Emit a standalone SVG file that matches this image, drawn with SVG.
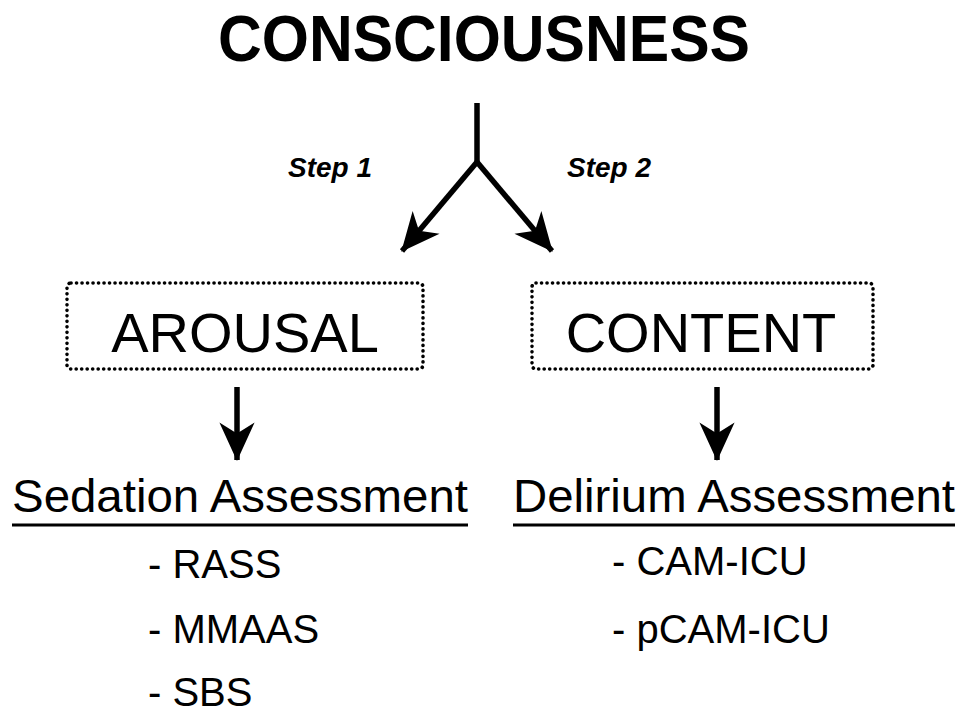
<svg xmlns="http://www.w3.org/2000/svg" width="965" height="721" viewBox="0 0 965 721">
<style>
  text { font-family: "Liberation Sans", Arial, sans-serif; fill: #000; }
  .title { font-size: 64px; font-weight: bold; }
  .step { font-size: 28px; font-weight: bold; font-style: italic; }
  .box { fill: none; stroke: #000; stroke-width: 3.6; stroke-dasharray: 0.1 5.4; stroke-linecap: round; }
  .boxlabel { font-size: 56px; }
  .head { font-size: 46px; }
  .item { font-size: 40px; }
  .line { fill: none; stroke: #000; stroke-width: 5.5; }
  .uline { stroke: #000; stroke-width: 3; }
</style>
<defs>
  <marker id="ah" markerUnits="userSpaceOnUse" markerWidth="44" markerHeight="44" viewBox="-38 -20 40 40" refX="0" refY="0" orient="auto">
    <path d="M1,0 L-34,-16 L-24,0 L-34,16 Z" fill="#000"/>
  </marker>
</defs>
<rect width="965" height="721" fill="#fff"/>

<g id="title">
  <text class="title" x="218" y="61" textLength="532" lengthAdjust="spacingAndGlyphs">CONSCIOUSNESS</text>
</g>

<g id="connectors">
  <path class="line" d="M477,103 L477,162"/>
  <path class="line" d="M477,162 L402,251" marker-end="url(#ah)"/>
  <path class="line" d="M477,162 L552,251" marker-end="url(#ah)"/>
  <path class="line" d="M237,387 L237,460" marker-end="url(#ah)"/>
  <path class="line" d="M717,387 L717,460" marker-end="url(#ah)"/>
</g>

<g id="step1">
  <text class="step" x="288" y="177">Step 1</text>
</g>
<g id="step2">
  <text class="step" x="567" y="177">Step 2</text>
</g>

<g id="arousal">
  <rect class="box" x="67" y="283" width="356" height="86" rx="4"/>
  <text class="boxlabel" x="245" y="352" text-anchor="middle">AROUSAL</text>
</g>

<g id="content">
  <rect class="box" x="532" y="283" width="341" height="86" rx="4"/>
  <text class="boxlabel" x="701" y="352" text-anchor="middle">CONTENT</text>
</g>

<g id="sedation">
  <text class="head" x="12" y="512" textLength="456" lengthAdjust="spacingAndGlyphs">Sedation Assessment</text>
  <line class="uline" x1="12" y1="525" x2="468" y2="525"/>
  <text class="item" x="148" y="578">- RASS</text>
  <text class="item" x="148" y="643">- MMAAS</text>
  <text class="item" x="148" y="706">- SBS</text>
</g>

<g id="delirium">
  <text class="head" x="513" y="512" textLength="442" lengthAdjust="spacingAndGlyphs">Delirium Assessment</text>
  <line class="uline" x1="513" y1="525" x2="955" y2="525"/>
  <text class="item" x="612" y="575">- CAM-ICU</text>
  <text class="item" x="612" y="643">- pCAM-ICU</text>
</g>
</svg>
